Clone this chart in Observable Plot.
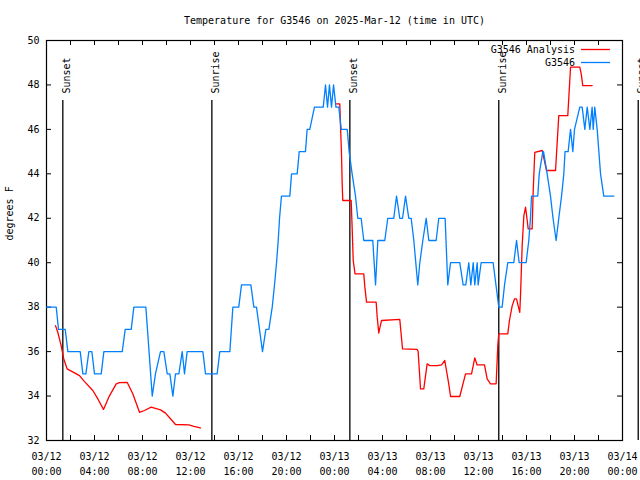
<!DOCTYPE html>
<html>
<head>
<meta charset="utf-8">
<script src="https://cdn.jsdelivr.net/npm/d3@7"></script>
<script src="https://cdn.jsdelivr.net/npm/@observablehq/plot@0.6"></script>
<style>
  html, body { margin: 0; padding: 0; background: #fff; }
</style>
</head>
<body>
<div id="chart"></div>
<script>
const titleText = "Temperature for G3546 on 2025-Mar-12 (time in UTC)";
const yLabel = "degrees F";
const startUTC = Date.UTC(2025, 2, 12);

// Observations (hours since 2025-03-12 00:00 UTC, degrees F)
const obsHours = [0,0.81,1.0,1.56,1.78,2.81,3.03,3.28,3.53,3.78,4.0,4.56,4.78,6.31,6.56,7.06,7.28,8.28,8.81,9.08,9.5,9.78,10.06,10.28,10.53,10.75,11.03,11.31,11.5,11.72,13.03,13.25,14.22,14.44,15.28,15.53,16.02,16.25,17.03,17.28,17.5,18.0,18.28,18.53,18.81,19.0,19.17,19.31,19.42,19.58,20.28,20.42,20.89,21.06,21.58,21.72,21.94,22.33,23.06,23.25,23.42,23.58,23.75,23.92,24.12,24.36,24.56,25.06,25.22,25.47,25.75,25.94,26.22,26.44,27.19,27.42,27.61,28.19,28.44,28.94,29.17,29.44,29.67,29.92,30.19,30.39,30.61,30.94,31.11,31.36,31.64,31.86,32.47,32.69,33.22,33.44,33.67,34.44,34.72,34.94,35.19,35.36,35.56,35.69,35.89,35.97,36.22,37.22,37.69,37.97,38.17,38.44,38.94,39.17,39.39,39.97,40.19,40.33,40.42,40.94,41.06,41.36,41.42,41.72,42.0,42.21,42.47,42.69,42.92,43.11,43.21,43.47,43.67,43.86,44.0,44.44,44.64,44.86,45.06,45.28,45.47,45.56,45.69,45.89,46.03,46.17,46.44,47.28];
const obsTemps = [38,38,37,37,36,36,35,35,36,36,35,35,36,36,37,37,38,38,34,35,36,36,35,35,34,35,35,36,35,36,36,35,35,36,36,38,38,39,39,38,38,36,37,37,38,39,40,41,42,43,43,44,44,45,45,46,46,47,47,48,47,48,47,48,47,47,46,46,45,44,43,42,42,41,41,39,41,41,42,42,43,42,42,43,42,42,41,39,40,41,42,41,41,42,42,39,40,40,39,39,40,39,40,39,40,39,40,40,38,38,39,40,40,41,40,40,41,42,43,43,44,45,45,44,43,42,41,42,43,44,45,45,46,45,46,47,47,46,47,46,47,46,47,46,45,44,43,43];

// Analysis (NaN marks the gap between the two runs)
const anaHours = [0.75,0.94,1.22,1.44,1.72,2.33,2.75,3.17,3.86,4.28,4.75,5.19,5.81,6.08,6.72,7.19,7.75,8.17,8.72,9.5,9.92,10.33,10.75,11.86,12.28,12.83,
  18.5,
  24.17,24.44,24.5,24.58,24.64,24.69,25.39,25.47,25.56,25.71,26.44,26.53,26.67,27.47,27.56,27.69,27.79,27.92,29.44,29.67,30.89,30.97,31.17,31.44,31.72,31.94,32.56,32.92,33.19,33.52,33.67,34.44,34.92,35.42,35.69,35.89,36.5,36.72,37.0,37.47,37.61,37.69,38.44,38.58,38.81,39.0,39.17,39.33,39.44,39.5,39.64,39.78,39.92,40.06,40.14,40.47,40.56,40.69,41.31,41.67,42.42,42.69,43.44,43.67,44.44,44.56,44.69,45.47];
const anaTemps = [37.17,36.87,36.27,35.67,35.22,35.04,34.92,34.65,34.25,33.87,33.4,33.95,34.55,34.6,34.62,34.1,33.27,33.35,33.5,33.38,33.23,32.98,32.72,32.7,32.64,32.57,
  NaN,
  47.15,47.15,46.17,44.97,43.55,42.8,42.8,41.6,40.1,39.5,39.5,38.9,38.23,38.23,37.55,36.83,37.1,37.4,37.45,36.12,36.1,36.0,34.32,34.32,35.45,35.37,35.37,35.4,35.6,34.55,33.98,33.98,35.0,35.0,35.72,35.4,35.4,34.77,34.55,34.55,36.28,36.8,36.8,37.4,38.07,38.37,38.37,38.0,37.77,38.52,40.78,42.12,42.5,41.9,41.52,41.52,43.25,44.97,45.05,44.15,44.15,46.62,46.62,48.8,48.8,48.5,47.97,47.97];

// Sunrise / sunset events
const eventHours = [1.36, 13.78, 25.28, 37.69, 49.31];
const eventLabels = ["Sunset", "Sunrise", "Sunset", "Sunrise", "Sunset"];

// Axes
const labelTickHours = [0,4,8,12,16,20,24,28,32,36,40,44,48];
const minorTickHours = [0,2,4,6,8,10,12,14,16,18,20,22,24,26,28,30,32,34,36,38,40,42,44,46,48];
const yTicks = [32,34,36,38,40,42,44,46,48,50];

// Legend
const legendLabels = ["G3546 Analysis", "G3546"];
const legendColors = ["#ff0000", "#0080ff"];

const toDate = h => new Date(startUTC + h * 3600000);
const obs = obsHours.map((h, i) => ({time: toDate(h), temp: obsTemps[i]}));
const ana = anaHours.map((h, i) => ({time: toDate(h), temp: anaTemps[i]}));
const events = eventHours.map((h, i) => ({time: toDate(h), label: eventLabels[i]}));
const fmt = d3.utcFormat("%m/%d\n%H:%M");

const legendMark = (index, scales, values, dims) => {
  const g = d3.create("svg:g");
  const xr = dims.width - dims.marginRight;
  legendLabels.forEach((lab, i) => {
    const y = dims.marginTop + 10 + i * 13;
    g.append("text").attr("x", xr - 47).attr("y", y).attr("dy", "0.32em")
      .attr("text-anchor", "end").attr("fill", "black").text(lab);
    g.append("line").attr("x1", xr - 41).attr("x2", xr - 12)
      .attr("y1", y - 0.5).attr("y2", y - 0.5)
      .attr("stroke", legendColors[i]).attr("stroke-width", 1.3);
  });
  return g.node();
};

const chart = Plot.plot({
  width: 640,
  height: 480,
  marginLeft: 46,
  marginRight: 18,
  marginTop: 40,
  marginBottom: 40,
  style: {fontFamily: "'DejaVu Sans Mono', monospace", fontSize: "10px", background: "white", color: "black"},
  x: {type: "utc", domain: [toDate(0), toDate(48)]},
  y: {domain: [32, 50]},
  marks: [
    Plot.frame({stroke: "black", strokeWidth: 1.2}),
    Plot.ruleX(minorTickHours.map(toDate), {insetTop: 395, stroke: "black"}),
    Plot.ruleX(minorTickHours.map(toDate), {insetBottom: 395, stroke: "black"}),
    Plot.ruleY(yTicks, {insetRight: 571, stroke: "black"}),
    Plot.ruleY(yTicks, {insetLeft: 571, stroke: "black"}),
    Plot.axisX({ticks: labelTickHours.map(toDate), tickFormat: fmt, tickSize: 0, tickPadding: 9, lineHeight: 1.5, label: null}),
    Plot.axisY({ticks: yTicks, tickSize: 0, tickPadding: 7, label: null}),
    Plot.ruleX(events, {x: "time", insetTop: 60, stroke: "black", strokeWidth: 1.3}),
    Plot.text(events, {x: "time", text: "label", frameAnchor: "top", dy: 53, rotate: -90, textAnchor: "start", fill: "black"}),
    Plot.line(ana, {x: "time", y: "temp", stroke: legendColors[0], strokeWidth: 1.3}),
    Plot.line(obs, {x: "time", y: "temp", stroke: legendColors[1], strokeWidth: 1.3}),
    Plot.text([titleText], {text: d => d, frameAnchor: "top", lineAnchor: "middle", dy: -20, fill: "black"}),
    Plot.text([yLabel], {text: d => d, frameAnchor: "left", dx: -37, rotate: -90, fill: "black"}),
    legendMark
  ]
});
document.getElementById("chart").appendChild(chart);
</script>
</body>
</html>
